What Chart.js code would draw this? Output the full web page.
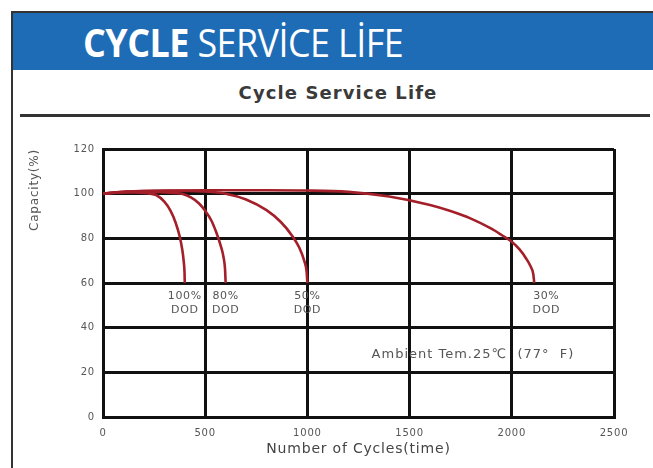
<!DOCTYPE html>
<html>
<head>
<meta charset="utf-8">
<script src="https://cdn.jsdelivr.net/npm/chart.js@4.4.0/dist/chart.umd.min.js"></script>
<style>
  body { margin: 0; width: 653px; height: 468px; overflow: hidden; background: #fff; position: relative; }
  #frame { position: absolute; left: 11px; top: 11px; right: 0; bottom: 0; border-left: 2px solid #333; border-top: 2px solid #333; }
  #band { position: absolute; left: 13px; top: 13px; width: 640px; height: 57px; background: #1e6cb6; }
  #band-title { position: absolute; left: 83px; top: 13px; font-family: 'Open Sans', sans-serif; font-size: 39px; color: #fff; line-height: 57px; transform: scaleX(0.92); transform-origin: left center; white-space: nowrap; letter-spacing: -0.6px; }
  #band-title b { font-weight: 700; }
  #sub-title { position: absolute; left: 0; width: 676px; top: 82px; text-align: center; font-family: 'DejaVu Sans', sans-serif; font-weight: bold; font-size: 18px; color: #3a3a3a; letter-spacing: 1.1px; }
  #rule { position: absolute; left: 20px; top: 114px; width: 630px; height: 3px; background: #333; }
  #chart-box { position: absolute; left: 0; top: 0; width: 653px; height: 468px; }
</style>
</head>
<body>
<div id="frame"></div>
<div id="band"></div>
<div id="band-title"><b>CYCLE</b> SERVİCE LİFE</div>
<div id="sub-title">Cycle Service Life</div>
<div id="rule"></div>
<div id="chart-box"><canvas id="my-chart" width="653" height="468"></canvas></div>
<script>
'use strict';

//axis ticks
let xTicks = [0, 500, 1000, 1500, 2000, 2500];
let yTicks = [0, 20, 40, 60, 80, 100, 120];

//series: cycles and capacity (%)
let dodLabels = ['100%', '80%', '50%', '30%'];

let cycles100 = [0, 80, 160, 230, 260, 300, 330, 355, 375, 388, 395, 399, 400];
let capacity100 = [100, 100.6, 100.5, 100, 99.4, 96.4, 92.4, 87.1, 80.9, 74.8, 69.6, 64.4, 60];

let cycles80 = [0, 120, 250, 360, 390, 430, 470, 500, 530, 555, 575, 590, 597, 600];
let capacity80 = [100, 100.9, 100.8, 100.2, 99.8, 98.3, 95.6, 92.3, 88, 82.5, 77, 71.4, 66.3, 60];

let cycles50 = [0, 150, 330, 490, 600, 700, 800, 870, 925, 960, 985, 996, 1000];
let capacity50 = [100, 101.1, 101.3, 101, 100, 97.4, 92.6, 87.3, 81.2, 75.9, 69.8, 65.2, 60];

let cycles30 = [0, 200, 500, 800, 1000, 1200, 1400, 1600, 1700, 1800, 1900, 1950, 2000, 2040, 2070, 2090, 2105, 2110];
let capacity30 = [100, 101.2, 101.5, 101.5, 101.4, 100.8, 98.7, 94.9, 92.2, 88.8, 84.3, 81.5, 78.5, 74.8, 71, 67.8, 64, 60];

let ambientNote = { text: 'Ambient Tem.25\u2103  (77\u00B0  F)', cycles: 1810, capacity: 28 };

const ctx = document.getElementById('my-chart').getContext('2d');
const lineRed = '#a3202a';
const textGray = '#555';

function toPoints(xs, ys) {
  let pts = [];
  for (let i = 0; i < xs.length; i++) {
    pts.push({ x: xs[i], y: ys[i] });
  }
  return pts;
}

function makeSet(label, xs, ys) {
  return {
    label: label + ' DOD',
    data: toPoints(xs, ys),
    borderColor: lineRed,
    borderWidth: 2.6,
    pointRadius: 0,
    cubicInterpolationMode: 'monotone',
    fill: false
  };
}

//wide lettering like the original print
const spacingPlugin = {
  id: 'spacing',
  beforeDraw(chart) {
    chart.ctx.letterSpacing = '0.8px';
  }
};

//text under the end of each curve + ambient note
const notesPlugin = {
  id: 'notes',
  afterDatasetsDraw(chart) {
    const c = chart.ctx;
    const xs = chart.scales.x;
    const ys = chart.scales.y;
    c.save();
    c.fillStyle = textGray;
    c.font = '11px "DejaVu Sans", sans-serif';
    c.letterSpacing = '0.6px';
    c.textAlign = 'center';
    c.textBaseline = 'middle';
    chart.data.datasets.forEach((ds, i) => {
      let last = ds.data[ds.data.length - 1];
      let px = xs.getPixelForValue(last.x) + (i === 3 ? 12 : 0);
      let py = ys.getPixelForValue(last.y);
      c.fillText(dodLabels[i], px, py + 13);
      c.fillText('DOD', px, py + 27);
    });
    c.font = '13px "DejaVu Sans", sans-serif';
    c.letterSpacing = '1px';
    c.fillText(ambientNote.text, xs.getPixelForValue(ambientNote.cycles), ys.getPixelForValue(ambientNote.capacity));
    c.restore();
  }
};

const myObj = {
  type: 'line',
  data: {
    datasets: [
      makeSet(dodLabels[0], cycles100, capacity100),
      makeSet(dodLabels[1], cycles80, capacity80),
      makeSet(dodLabels[2], cycles50, capacity50),
      makeSet(dodLabels[3], cycles30, capacity30)
    ]
  },
  options: {
    responsive: false,
    animation: false,
    layout: { padding: { top: 149, left: 20, right: 39, bottom: 6 } },
    plugins: { legend: { display: false }, tooltip: { enabled: false } },
    scales: {
      x: {
        type: 'linear',
        min: 0,
        max: 2500,
        afterBuildTicks: (s) => { s.ticks = xTicks.map(v => ({ value: v })); },
        afterFit: (s) => { s.height = 45; },
        grid: { color: '#111', lineWidth: 3, drawTicks: false },
        border: { color: '#111', width: 3 },
        ticks: { color: textGray, padding: 10, maxRotation: 0, callback: (v) => String(v), font: { family: 'DejaVu Sans', size: 10 } },
        title: { display: true, text: 'Number of Cycles(time)', color: '#444', padding: { top: 4 }, font: { family: 'DejaVu Sans', size: 14 } }
      },
      y: {
        min: 0,
        max: 120,
        afterBuildTicks: (s) => { s.ticks = yTicks.map(v => ({ value: v })); },
        afterFit: (s) => { s.width = 83; },
        grid: { color: '#111', lineWidth: 3, drawTicks: false },
        border: { color: '#111', width: 3 },
        ticks: { color: textGray, padding: 8, callback: (v) => String(v), font: { family: 'DejaVu Sans', size: 10 } },
        title: { display: true, text: 'Capacity(%)', align: 'end', color: textGray, padding: { top: 8 }, font: { family: 'DejaVu Sans', size: 12 } }
      }
    }
  },
  plugins: [spacingPlugin, notesPlugin]
};

const myChart = new Chart(ctx, myObj);
</script>
</body>
</html>
